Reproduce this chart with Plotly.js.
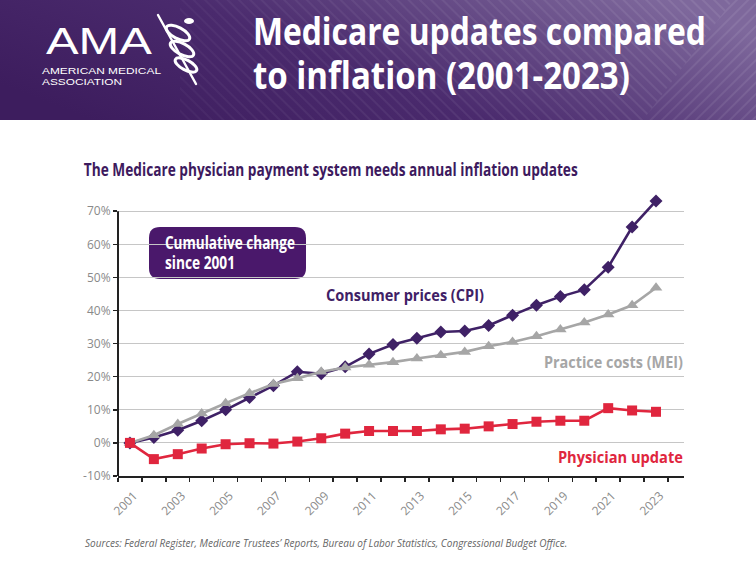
<!DOCTYPE html>
<html><head><meta charset="utf-8">
<script src="https://cdn.plot.ly/plotly-3.0.1.min.js"></script>
<style>
html,body{margin:0;padding:0;background:#fff;}
#wrap{position:relative;width:756px;height:564px;overflow:hidden;}
#hdr{position:absolute;left:0;top:0;}
#chart{position:absolute;left:0;top:0;width:756px;height:564px;}
</style></head><body>
<div id="wrap">
<svg id="hdr" width="756" height="120" xmlns="http://www.w3.org/2000/svg">
 <defs>
  <linearGradient id="bg" x1="0" y1="0.7" x2="1" y2="0.3">
   <stop offset="0" stop-color="#3d1d5e"/>
   <stop offset="0.45" stop-color="#4a2a6d"/>
   <stop offset="1" stop-color="#7e689c"/>
  </linearGradient>
  <pattern id="hA" width="8" height="8" patternUnits="userSpaceOnUse" patternTransform="rotate(-45)"><line x1="1" y1="0" x2="1" y2="8" stroke="#fff" stroke-width="1"/></pattern>
  <pattern id="hB" width="8" height="8" patternUnits="userSpaceOnUse" patternTransform="rotate(45)"><line x1="1" y1="0" x2="1" y2="8" stroke="#fff" stroke-width="1"/></pattern>
  <linearGradient id="fade" x1="0" x2="1" y1="0" y2="0">
   <stop offset="0" stop-color="#fff" stop-opacity="0"/>
   <stop offset="0.35" stop-color="#fff" stop-opacity="0.6"/>
   <stop offset="1" stop-color="#fff" stop-opacity="1"/>
  </linearGradient>
  <mask id="m"><rect x="0" y="0" width="756" height="120" fill="url(#fade)"/></mask>
 </defs>
 <rect width="756" height="120" fill="url(#bg)"/>
 <g mask="url(#m)" opacity="0.16">
  <polygon points="180,0 733,0 643,120 180,120" fill="url(#hA)"/>
  <polygon points="733,0 756,0 756,120 643,120" fill="url(#hB)"/>
 </g>
 <g fill="#fff" font-family="Liberation Sans, Arial, sans-serif">
  <text x="46" y="54" font-size="37" textLength="106" lengthAdjust="spacingAndGlyphs">AMA</text>
  <text x="42" y="74" font-size="8.6" textLength="119" lengthAdjust="spacingAndGlyphs">AMERICAN MEDICAL</text>
  <text x="42" y="85" font-size="8.6" textLength="80" lengthAdjust="spacingAndGlyphs">ASSOCIATION</text>
 </g>
 <g stroke="#fff" fill="none" stroke-linecap="round">
  <line x1="158" y1="15" x2="196" y2="84" stroke-width="2.4"/>
  <ellipse cx="178" cy="33" rx="13" ry="5.5" transform="rotate(28 178 33)" stroke-width="3"/>
  <ellipse cx="182" cy="49" rx="13" ry="5.5" transform="rotate(28 182 49)" stroke-width="3"/>
  <ellipse cx="186" cy="65" rx="12" ry="5" transform="rotate(28 186 65)" stroke-width="3"/>
  <ellipse cx="189" cy="21" rx="5" ry="3" fill="#fff" stroke="none"/>
 </g>
</svg>
<div id="chart"></div>
</div>
<script>
const years = [2001,2002,2003,2004,2005,2006,2007,2008,2009,2010,2011,2012,2013,2014,2015,2016,2017,2018,2019,2020,2021,2022,2023];
const cpi  = [0,1.6,3.8,6.7,10.0,13.7,17.3,21.5,20.9,23.0,26.9,29.7,31.6,33.5,33.8,35.5,38.6,41.6,44.2,46.3,53.1,65.2,73.1];
const mei  = [0,2.3,5.7,8.9,12.0,15.0,17.8,19.5,21.5,22.8,23.6,24.4,25.5,26.5,27.5,29.2,30.5,32.2,34.3,36.4,38.8,41.6,46.9];
const phys = [0,-4.9,-3.4,-1.7,-0.4,-0.1,-0.2,0.4,1.4,2.8,3.6,3.6,3.6,4.1,4.3,5.0,5.7,6.4,6.7,6.7,10.5,9.8,9.4];
const yTickVals = [-10,0,10,20,30,40,50,60,70];
const yTickText = ['-10%','0%','10%','20%','30%','40%','50%','60%','70%'];
const xTickVals = [2001,2003,2005,2007,2009,2011,2013,2015,2017,2019,2021,2023];
const xTickText = ['2001','2003','2005','2007','2009','2011','2013','2015','2017','2019','2021','2023'];

const seriesNames = ['Consumer prices (CPI)','Practice costs (MEI)','Physician update'];
const cPurple = '#3f2166', cGray = '#a6a6a6', cRed = '#e0263e';

const BOLD = 'Open Sans, Roboto, sans-serif';
const SANS = 'Open Sans, Liberation Sans, sans-serif';

// pixel -> paper helpers (layout positioning only)
const L = 118, R = 72, T = 198, B = 88, W = 756, H = 564;
const PW = W - L - R, PH = H - T - B;
const X = px => (px - L) / PW;
const Y = py => (H - B - py) / PH;

function roundRect(x0, y0, x1, y1, r) {
  const rx = r / PW, ry = r / PH;
  const a = X(x0), b = X(x1), top = Y(y0), bot = Y(y1);
  return `M${a+rx},${top} L${b-rx},${top} Q${b},${top} ${b},${top-ry} L${b},${bot+ry} Q${b},${bot} ${b-rx},${bot} L${a+rx},${bot} Q${a},${bot} ${a},${bot+ry} L${a},${top-ry} Q${a},${top} ${a+rx},${top} Z`;
}

// condensed bold texts: [text, leftPx, rightPx, centerYPx, size, color]
const condensed = [
  ['Medicare updates compared', 253, 706, 33, 38, '#ffffff'],
  ['to inflation (2001-2023)', 253, 630, 76, 38, '#ffffff'],
  ['The Medicare physician payment system needs annual inflation updates', 84, 578, 171, 17, '#3d1a5e'],
  ['Cumulative change', 165, 295, 244, 18, '#ffffff'],
  ['since 2001', 165, 235, 263, 18, '#ffffff'],
  [seriesNames[0], 326, 484, 295, 16, cPurple],
  [seriesNames[1], 544, 683, 362, 16, cGray],
  [seriesNames[2], 558, 683, 457, 16, cRed]
];

const annotations = condensed.map(c => ({
  text: c[0], x: X((c[1] + c[2]) / 2), y: Y(c[3]), xref: 'paper', yref: 'paper',
  xanchor: 'center', yanchor: 'middle', showarrow: false,
  font: {family: BOLD, size: c[4], color: c[5], weight: 700}
}));
annotations.push({
  text: 'Sources: Federal Register, Medicare Trustees\u2019 Reports, Bureau of Labor Statistics, Congressional Budget Office.',
  x: X(83), y: Y(543), xref: 'paper', yref: 'paper', xanchor: 'left', yanchor: 'middle', showarrow: false,
  font: {family: SANS, size: 10, color: '#666', style: 'italic'}
});

const traces = [
  {x: years, y: cpi, name: seriesNames[0], mode: 'lines+markers', cliponaxis: false,
   line: {color: cPurple, width: 2.6}, marker: {symbol: 'diamond', size: 10, color: cPurple}},
  {x: years, y: mei, name: seriesNames[1], mode: 'lines+markers', cliponaxis: false,
   line: {color: cGray, width: 2.6}, marker: {symbol: 'triangle-up', size: 11, color: cGray}},
  {x: years, y: phys, name: seriesNames[2], mode: 'lines+markers', cliponaxis: false,
   line: {color: cRed, width: 2.6}, marker: {symbol: 'square', size: 10, color: cRed}}
];

const layout = {
  width: W, height: H,
  margin: {l: L, r: R, t: T, b: B, pad: 0},
  paper_bgcolor: 'rgba(0,0,0,0)', plot_bgcolor: 'rgba(0,0,0,0)',
  showlegend: false,
  xaxis: {
    type: 'linear', range: [2000.5, 2024.17], fixedrange: true,
    tickmode: 'array', tickvals: xTickVals, ticktext: xTickText, tickangle: -45,
    ticks: '', showgrid: false, zeroline: false,
    showline: true, linecolor: '#222', linewidth: 2,
    minor: {tick0: 2000.5, dtick: 1, ticks: 'outside', ticklen: 4, tickcolor: '#222', tickwidth: 1.5, showgrid: false},
    tickfont: {family: SANS, size: 12, color: '#8a8a8a'},
    ticklabelstandoff: 6, ticklabelshift: 4
  },
  yaxis: {
    range: [-10, 74], fixedrange: true,
    tickmode: 'array', tickvals: yTickVals, ticktext: yTickText,
    showgrid: true, gridcolor: '#c6c6c6', gridwidth: 1,
    zeroline: false, showline: false,
    ticks: 'outside', ticklen: 4, tickcolor: '#222', tickwidth: 1.5,
    tickfont: {family: SANS, size: 12, color: '#8a8a8a'}
  },
  shapes: [
    {type: 'line', xref: 'paper', yref: 'y', x0: 0, x1: 0, y0: -10, y1: 70, line: {color: '#222', width: 2}},
    {type: 'path', xref: 'paper', yref: 'paper', path: roundRect(149, 227, 306, 279, 11), fillcolor: '#4a186b', line: {width: 0}, layer: 'below'}
  ],
  annotations: annotations
};

function annText(gd, i) {
  return gd.querySelector(`.annotation[data-index="${i}"] text.annotation-text`);
}

Plotly.newPlot('chart', traces, layout, {staticPlot: true, displayModeBar: false}).then(gd => {
  // size each label so its natural width equals the target width
  const upd = {};
  condensed.forEach((c, i) => {
    const t = annText(gd, i);
    if (t) {
      const nat = t.getComputedTextLength();
      if (nat > 0) upd[`annotations[${i}].font.size`] = c[4] * (c[2] - c[1]) / nat;
    }
  });
  return Plotly.relayout(gd, upd);
}).then(gd => {
  // restore the visual (condensed) size at the same width
  condensed.forEach((c, i) => {
    const t = annText(gd, i);
    if (t) {
      t.style.fontSize = c[4] + 'px';
      t.setAttribute('textLength', c[2] - c[1]);
      t.setAttribute('lengthAdjust', 'spacingAndGlyphs');
    }
  });
});
</script>
</body></html>
